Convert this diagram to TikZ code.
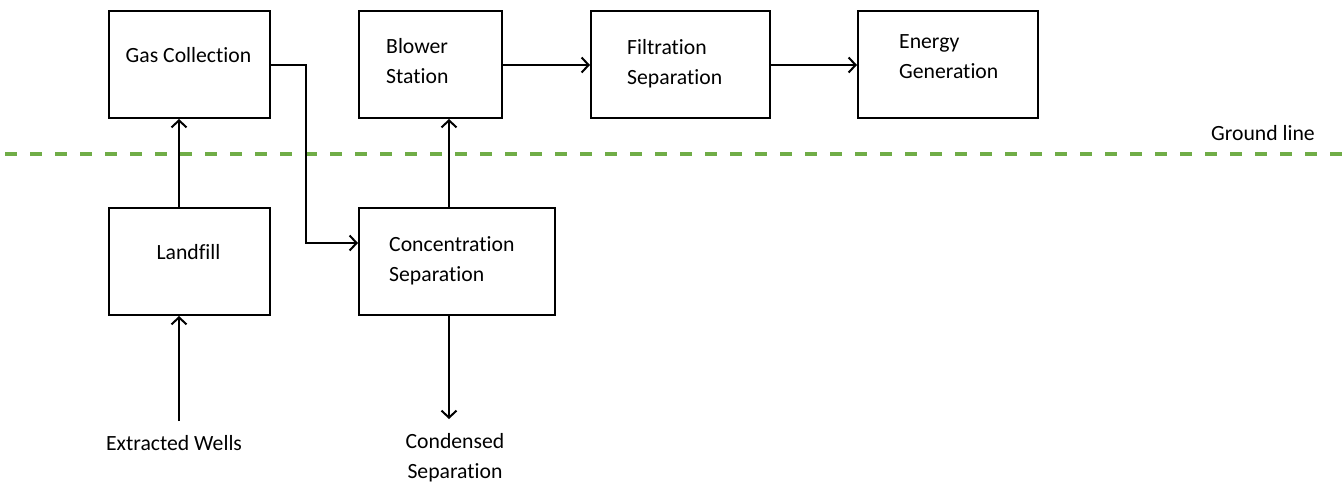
\documentclass[tikz,border=0pt]{standalone}
\usepackage{fontspec}
\setmainfont[RawFeature={-liga;-clig;-dlig}]{Carlito}
\usetikzlibrary{arrows.meta}
\definecolor{groundgreen}{RGB}{112,173,71}
\begin{document}
\begin{tikzpicture}[x=1pt,y=-1pt,
  box/.style={draw=black,line width=2pt,rectangle,anchor=north west,inner sep=0pt},
  lbl/.style={font=\fontsize{21.7}{30}\selectfont,inner sep=0pt,align=left},
  conn/.style={line width=2pt,-{Straight Barb[length=7pt,width=15pt,line width=2pt]}},
  ground/.style={draw=groundgreen,line width=3.5pt,dash pattern=on 12pt off 13pt}
]
\useasboundingbox (0,0) rectangle (1342,483);
% boxes
\node[box,minimum width=161pt,minimum height=107pt] (gc) at (108,10) {};
\node[box,minimum width=143pt,minimum height=107pt] (bs) at (358,10) {};
\node[box,minimum width=179pt,minimum height=107pt] (fs) at (590,10) {};
\node[box,minimum width=180pt,minimum height=107pt] (eg) at (857,10) {};
\node[box,minimum width=161pt,minimum height=107pt] (lf) at (108,207) {};
\node[box,minimum width=196pt,minimum height=107pt] (cs) at (358,207) {};
% texts
\node[lbl] (gcT) at (188.5,55) {Gas Collection};
\node[lbl,anchor=west] (bsT) at (386,61) {Blower\\Station};
\node[lbl,anchor=west] (fsT) at (627,64) {Filtration\\Separation};
\node[lbl,anchor=west] (egT) at (899,57) {Energy\\Generation};
\node[lbl] (lfT) at (188.5,252) {Landfill};
\node[lbl,anchor=west] (csT) at (389,261) {Concentration\\Separation};
\node[lbl] (ewT) at (174,443) {Extracted Wells};
\node[lbl,align=center] (cdT) at (455,458) {Condensed\\Separation};
\node[lbl] (glT) at (1263,133) {Ground line};
% ground line
\draw[ground] (5,154) -- (1342,154);
% connectors
\coordinate (ewTop) at (179,421);
\coordinate (csBot) at (449,419);
\coordinate (bend1) at (306,65);
\coordinate (bend2) at (306,243);
\draw[conn] (ewTop) -- (ewTop |- lf.south);
\draw[conn] (ewTop |- lf.north) -- (ewTop |- gc.south);
\draw[conn] (gc.east |- bend1) -- (bend1) -- (bend2) -- (bend2 -| cs.west);
\draw[conn] (csBot |- cs.north) -- (csBot |- bs.south);
\draw[conn] (csBot |- cs.south) -- (csBot);
\draw[conn] (bs.east |- bend1) -- (fs.west |- bend1);
\draw[conn] (fs.east |- bend1) -- (eg.west |- bend1);
\end{tikzpicture}
\end{document}
